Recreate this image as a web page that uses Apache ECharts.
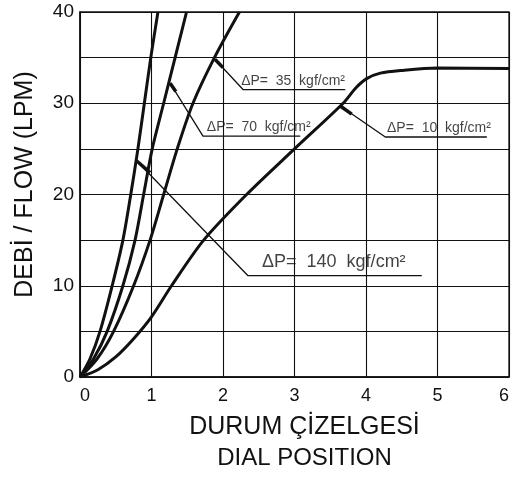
<!DOCTYPE html>
<html>
<head>
<meta charset="utf-8">
<script src="https://cdn.jsdelivr.net/npm/echarts@6/dist/echarts.min.js"></script>
<style>html,body{margin:0;padding:0;background:#fff;}#c{width:515px;height:479px;}</style>
</head>
<body>
<div id="c"></div>
<script>
// ---- data ----
const xTicks = [0, 1, 2, 3, 4, 5, 6];
const yTickLabels = [0, 10, 20, 30, 40];

const p140X = [0, 0.14, 0.28, 0.45, 0.60, 0.71, 0.81, 0.90, 0.99, 1.09];
const p140Y = [0, 2, 5, 10, 15, 20, 25, 30, 35, 40];
const p70X = [0, 0.19, 0.38, 0.60, 0.77, 0.89, 1.01, 1.17, 1.33, 1.49];
const p70Y = [0, 2, 5, 10, 15, 20, 25, 30, 35, 40];
const p35X = [0, 0.24, 0.47, 0.75, 0.98, 1.17, 1.36, 1.58, 1.88, 2.23];
const p35Y = [0, 2, 5, 10, 15, 20, 25, 30, 35, 40];
const p10X = [0, 0.25, 0.5, 0.75, 1.0, 1.28, 1.73, 2.33, 3.0, 3.68, 3.86, 4.01, 4.2, 4.5, 5.0, 6.0];
const p10Y = [0, 0.8, 2.2, 4.2, 6.6, 10, 15, 20, 25, 30, 31.7, 32.7, 33.3, 33.6, 33.85, 33.8];

// leader lines (data units): start on curve, elbow, end of underline
const lead140X = [0.79, 2.35, 4.78];
const lead140Y = [23.7, 11.1, 11.1];
const lead70X = [1.26, 1.72, 3.08];
const lead70Y = [32.2, 26.4, 26.4];
const lead35X = [1.89, 2.28, 3.71];
const lead35Y = [34.8, 31.5, 31.5];
const lead10X = [3.64, 4.27, 5.69];
const lead10Y = [29.7, 26.3, 26.3];

// short thick tick segments where leaders touch the curves
const tick140X = [0.79, 0.98];
const tick140Y = [23.7, 22.4];
const tick70X = [1.26, 1.34];
const tick70Y = [32.2, 31.3];
const tick35X = [1.89, 2.0];
const tick35Y = [34.8, 33.9];
const tick10X = [3.64, 3.80];
const tick10Y = [29.7, 28.8];

const labelTexts = ['ΔP=  140  kgf/cm²', 'ΔP=  70  kgf/cm²', 'ΔP=  35  kgf/cm²', 'ΔP=  10  kgf/cm²'];
const labelX = [3.55, 2.50, 2.98, 5.02];
const labelY = [11.1, 26.4, 31.5, 26.3];

// ---- build ----
const zip = (xs, ys) => xs.map((x, i) => [x, ys[i]]);
const FONT = '"Liberation Sans", Arial, Helvetica, sans-serif';
const INK = '#111';

function curve(name, xs, ys) {
  return { name, type: 'line', data: zip(xs, ys), smooth: 0.3, showSymbol: false,
    lineStyle: { color: INK, width: 3 }, z: 5, silent: true };
}
function leader(name, xs, ys, w) {
  return { name, type: 'line', data: zip(xs, ys), smooth: false, showSymbol: false,
    lineStyle: { color: INK, width: w }, z: 4, silent: true };
}
const labelSizes = [18, 14, 14, 14];
const labelDist = [5, 1.5, 1.5, 1.5];
const labelSeries = {
  type: 'scatter', symbolSize: 0, silent: true, z: 6,
  data: labelX.map((x, i) => ({
    value: [x, labelY[i]],
    label: { show: true, position: 'top', distance: labelDist[i], formatter: labelTexts[i],
      fontSize: labelSizes[i], lineHeight: labelSizes[i], color: INK, fontFamily: FONT }
  }))
};

const chart = echarts.init(document.getElementById('c'), null, { renderer: 'canvas' });
chart.setOption({
  animation: false,
  backgroundColor: '#fff',
  grid: { left: 80, right: 6, top: 12, bottom: 102, containLabel: false, outerBoundsMode: 'none',
    show: true, borderColor: INK, borderWidth: 1.3, backgroundColor: 'transparent' },
  xAxis: {
    type: 'value', min: xTicks[0], max: xTicks[xTicks.length - 1], interval: 1,
    axisLine: { show: true, lineStyle: { color: INK, width: 1.5 } },
    axisTick: { show: false },
    splitLine: { show: true, lineStyle: { color: INK, width: 1.1 } },
    axisLabel: { color: INK, fontSize: 18, fontFamily: FONT, margin: 10, alignMinLabel: 'left', alignMaxLabel: 'right',
      formatter: v => xTicks.includes(v) ? String(v) : '' },
    name: '{a|DURUM ÇİZELGESİ}\n{b|DIAL POSITION}',
    nameLocation: 'middle', nameGap: 35,
    nameTextStyle: { padding: [0, 0, 0, 20], rich: {
      a: { fontSize: 25, lineHeight: 31, color: INK, fontFamily: FONT },
      b: { fontSize: 24, lineHeight: 31, color: INK, fontFamily: FONT } } }
  },
  yAxis: {
    type: 'value', min: 0, max: 40, interval: 5,
    axisLine: { show: true, lineStyle: { color: INK, width: 1.5 } },
    axisTick: { show: false },
    splitLine: { show: true, lineStyle: { color: INK, width: 1.1 } },
    axisLabel: { color: INK, fontSize: 19, fontFamily: FONT, margin: 6,
      formatter: v => yTickLabels.includes(v) ? String(v) : '' },
    name: 'DEBİ / FLOW (LPM)', nameLocation: 'middle', nameRotate: 90, nameGap: 42,
    nameTextStyle: { color: INK, fontSize: 25, fontFamily: FONT, padding: [0, 0, 0, 20] }
  },
  series: [
    curve('140', p140X, p140Y),
    curve('70', p70X, p70Y),
    curve('35', p35X, p35Y),
    curve('10', p10X, p10Y),
    leader('l140', lead140X, lead140Y, 1.3),
    leader('l70', lead70X, lead70Y, 1.3),
    leader('l35', lead35X, lead35Y, 1.3),
    leader('l10', lead10X, lead10Y, 1.3),
    leader('t140', tick140X, tick140Y, 3.5),
    leader('t70', tick70X, tick70Y, 3.5),
    leader('t35', tick35X, tick35Y, 3.5),
    leader('t10', tick10X, tick10Y, 3.5),
    labelSeries
  ]
});
</script>
</body>
</html>
